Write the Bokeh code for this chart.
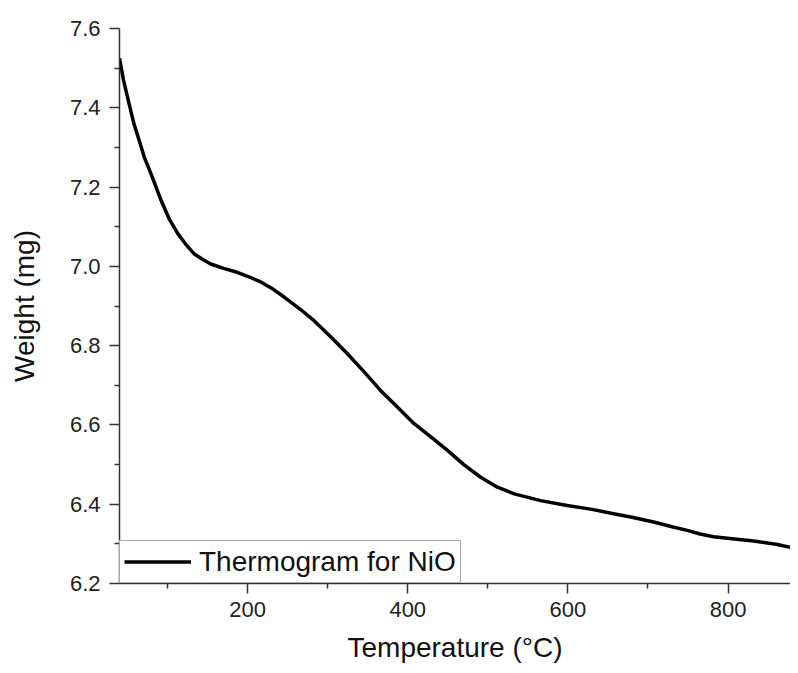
from bokeh.plotting import figure
from bokeh.models import FixedTicker, Range1d, Legend, LegendItem, NumeralTickFormatter
from bokeh.embed import file_html
from bokeh.resources import INLINE

temps = [40, 45, 52, 58, 65, 71, 80, 92, 102, 113, 123, 133, 145, 154, 170, 187, 200,
         217, 230, 246, 265, 283, 305, 325, 345, 366, 387, 408, 430, 450, 470, 491,
         512, 533, 566, 599, 630, 657, 680, 707, 730, 749, 765, 782, 805, 832, 860, 888]
weights = [7.525, 7.47, 7.41, 7.36, 7.315, 7.275, 7.23, 7.166, 7.12, 7.082, 7.055, 7.032,
           7.016, 7.006, 6.995, 6.985, 6.975, 6.960, 6.945, 6.922, 6.893, 6.863, 6.82,
           6.779, 6.735, 6.687, 6.645, 6.603, 6.568, 6.535, 6.50, 6.468, 6.443, 6.426,
           6.409, 6.397, 6.387, 6.376, 6.367, 6.355, 6.343, 6.334, 6.325, 6.318, 6.313,
           6.307, 6.299, 6.287]

x_ticks = [200, 400, 600, 800]
x_minor = [100, 300, 500, 700, 900]
y_ticks = [6.2, 6.4, 6.6, 6.8, 7.0, 7.2, 7.4, 7.6]
y_minor = [6.3, 6.5, 6.7, 6.9, 7.1, 7.3, 7.5]
series_name = "Thermogram for NiO"

FONT = "Liberation Sans"

p = figure(width=790, height=665, output_backend="svg", toolbar_location=None,
           x_range=Range1d(40, 878), y_range=Range1d(6.2, 7.6),
           min_border_left=119, min_border_right=0, min_border_top=28, min_border_bottom=82)
p.outline_line_color = None
p.xgrid.visible = False
p.ygrid.visible = False
p.background_fill_color = "white"
p.border_fill_color = "white"

r = p.line(temps, weights, line_color="black", line_width=3.5, line_join="round")

p.xaxis.ticker = FixedTicker(ticks=x_ticks, minor_ticks=x_minor)
p.yaxis.ticker = FixedTicker(ticks=y_ticks, minor_ticks=y_minor)
p.yaxis.formatter = NumeralTickFormatter(format="0.0")

for ax in (p.xaxis[0], p.yaxis[0]):
    ax.axis_line_color = "#333333"
    ax.axis_line_width = 1.5
    ax.major_tick_line_color = "#333333"
    ax.major_tick_line_width = 1.5
    ax.minor_tick_line_color = "#333333"
    ax.minor_tick_line_width = 1.5
    ax.major_tick_out = 10
    ax.major_tick_in = 0
    ax.minor_tick_out = 5
    ax.minor_tick_in = 0
    ax.major_label_text_font = FONT
    ax.major_label_text_font_size = "22px"
    ax.major_label_text_color = "#222222"
    ax.axis_label_text_font = FONT
    ax.axis_label_text_font_size = "28px"
    ax.axis_label_text_font_style = "normal"
    ax.axis_label_text_color = "#111111"

p.xaxis.axis_label = "Temperature (°C)"
p.yaxis.axis_label = "Weight (mg)"
p.xaxis.major_label_standoff = 8
p.yaxis.major_label_standoff = 9
p.xaxis.axis_label_standoff = 12
p.yaxis.axis_label_standoff = 27

legend = Legend(items=[LegendItem(label=series_name, renderers=[r])],
                location="bottom_left", margin=0, padding=4,
                glyph_width=67, glyph_height=33, label_height=33,
                label_standoff=8, spacing=0,
                label_text_font=FONT, label_text_font_size="28px",
                label_text_color="#111111",
                border_line_color="#555555", border_line_width=1,
                background_fill_alpha=1.0)
p.add_layout(legend)

open("out.html", "w").write(file_html(p, INLINE))
